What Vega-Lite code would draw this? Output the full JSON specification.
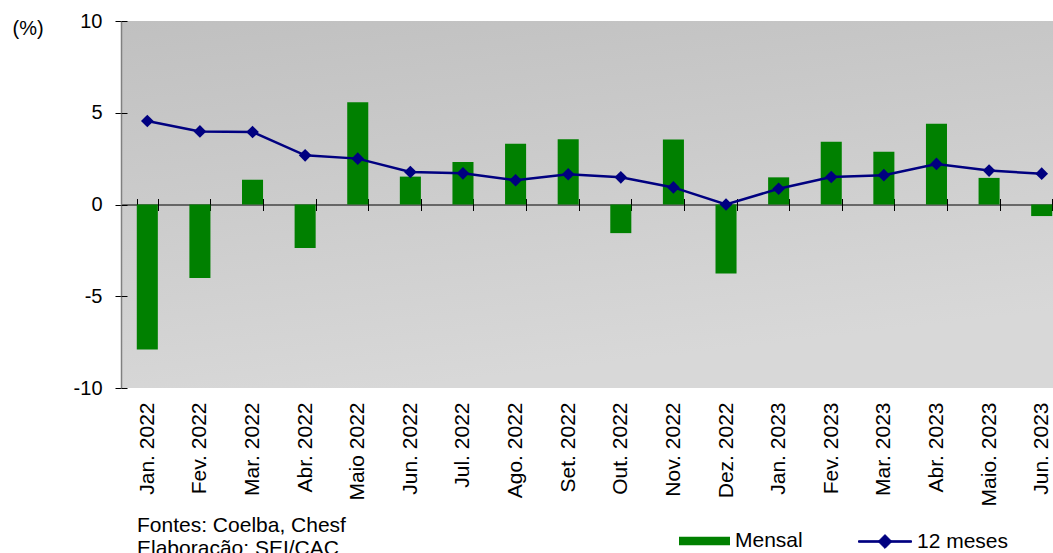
{
  "$schema": "https://vega.github.io/schema/vega-lite/v6.json",
  "autosize": {"type": "none"},
  "width": 932,
  "height": 367,
  "padding": {"left": 121, "top": 21, "right": 0, "bottom": 165},
  "background": "white",
  "config": {
    "font": "Liberation Sans",
    "view": {
      "stroke": null,
      "fill": {"gradient": "linear", "x1": 0, "y1": 0, "x2": 0.3, "y2": 1, "stops": [{"offset": 0, "color": "#c0c0c0"}, {"offset": 1, "color": "#d8d8d8"}]}
    }
  },
  "title": {
    "text": ["Fontes: Coelba, Chesf", "Elaboração: SEI/CAC"],
    "orient": "bottom",
    "anchor": "start",
    "frame": "group",
    "fontSize": 21,
    "fontWeight": "normal",
    "lineHeight": 23,
    "color": "#000000",
    "offset": -37,
    "dx": 16
  },
  "data": {
    "values": [
      {"mes": "Jan. 2022", "mensal": -7.9, "doze": 4.55},
      {"mes": "Fev. 2022", "mensal": -4.0, "doze": 3.98},
      {"mes": "Mar. 2022", "mensal": 1.35, "doze": 3.95},
      {"mes": "Abr. 2022", "mensal": -2.37, "doze": 2.68},
      {"mes": "Maio 2022", "mensal": 5.57, "doze": 2.5},
      {"mes": "Jun. 2022", "mensal": 1.52, "doze": 1.77},
      {"mes": "Jul. 2022", "mensal": 2.32, "doze": 1.7},
      {"mes": "Ago. 2022", "mensal": 3.31, "doze": 1.32},
      {"mes": "Set. 2022", "mensal": 3.56, "doze": 1.65},
      {"mes": "Out. 2022", "mensal": -1.56, "doze": 1.48},
      {"mes": "Nov. 2022", "mensal": 3.54, "doze": 0.93},
      {"mes": "Dez. 2022", "mensal": -3.76, "doze": 0.0},
      {"mes": "Jan. 2023", "mensal": 1.48, "doze": 0.86},
      {"mes": "Fev. 2023", "mensal": 3.42, "doze": 1.5},
      {"mes": "Mar. 2023", "mensal": 2.87, "doze": 1.6},
      {"mes": "Abr. 2023", "mensal": 4.4, "doze": 2.21},
      {"mes": "Maio. 2023", "mensal": 1.45, "doze": 1.85},
      {"mes": "Jun. 2023", "mensal": -0.63, "doze": 1.68}
    ]
  },
  "layer": [
    {
      "mark": {"type": "bar", "color": "#008000"},
      "encoding": {
        "x": {
          "field": "mes", "type": "nominal", "sort": null,
          "scale": {"range": [0, 947], "paddingInner": 0.6, "paddingOuter": 0.3},
          "axis": {
            "title": null, "orient": "bottom", "offset": -183.5,
            "domain": true, "domainColor": "#000000", "domainWidth": 1,
            "ticks": true, "tickBand": "extent", "tickSize": 6, "tickColor": "#000000", "tickWidth": 1,
            "labelAngle": -90, "labelAlign": "right", "labelBaseline": "middle",
            "labelFontSize": 21, "labelColor": "#000000", "labelPadding": 191.5,
            "grid": false, "labelOverlap": false, "labelBound": false, "labelFlush": false
          }
        },
        "y": {
          "field": "mensal", "type": "quantitative",
          "scale": {"domain": [-10, 10], "nice": false, "zero": false},
          "axis": {
            "values": [-10, -5, 0, 5, 10], "grid": false,
            "labelExpr": "toString(datum.value)",
            "domain": true, "domainColor": "#808080", "domainWidth": 1.5,
            "tickSize": 6, "tickColor": "#000000", "tickWidth": 1,
            "labelFontSize": 20, "labelColor": "#000000", "labelPadding": 13,
            "title": "(%)", "titleAngle": 0, "titleAlign": "left", "titleBaseline": "middle",
            "titleX": -109, "titleY": 7, "titleFontSize": 20, "titleFontWeight": "normal", "titleColor": "#000000"
          }
        },
        "fill": {
          "datum": "Mensal",
          "scale": {"range": ["#008000"]},
          "legend": {
            "title": null, "orient": "none", "legendX": 558, "legendY": 494.5, "padding": 0,
            "symbolType": "M-1,-0.17H1V0.17H-1Z", "symbolSize": 2601, "symbolStrokeWidth": 0,
            "labelFontSize": 21, "labelColor": "#000000", "labelOffset": 5
          }
        }
      }
    },
    {
      "mark": {"type": "line", "strokeWidth": 2.5},
      "encoding": {
        "x": {
          "field": "mes", "type": "nominal", "sort": null,
          "axis": {
            "title": null, "orient": "bottom", "offset": -183.5,
            "domain": false, "labels": false, "grid": false,
            "ticks": true, "tickBand": "extent", "tickSize": -6, "tickColor": "#000000", "tickWidth": 1
          }
        },
        "y": {
          "field": "doze", "type": "quantitative",
          "axis": {
            "orient": "left", "values": [-10, -5, 0, 5, 10], "grid": false,
            "domain": false, "labels": false, "title": null,
            "tickSize": -6, "tickColor": "#000000", "tickWidth": 1
          }
        },
        "stroke": {
          "datum": "12 meses",
          "scale": {"range": ["#000080"]},
          "legend": {
            "title": null, "orient": "none", "legendX": 737, "legendY": 493.5, "padding": 0,
            "symbolType": "M-1,-0.03H1V0.03H-1Z M-0.26,0L0,-0.26L0.26,0L0,0.26Z",
            "symbolSize": 2809, "symbolStrokeWidth": 1, "symbolFillColor": "#000080", "symbolStrokeColor": "#000080",
            "labelFontSize": 21, "labelColor": "#000000", "labelOffset": 5
          }
        }
      }
    },
    {
      "mark": {"type": "point", "shape": "diamond", "filled": true, "size": 161, "color": "#000080", "opacity": 1},
      "encoding": {
        "x": {"field": "mes", "type": "nominal", "sort": null, "axis": null},
        "y": {"field": "doze", "type": "quantitative", "axis": null}
      }
    }
  ],
  "resolve": {"axis": {"x": "independent", "y": "independent"}}
}
